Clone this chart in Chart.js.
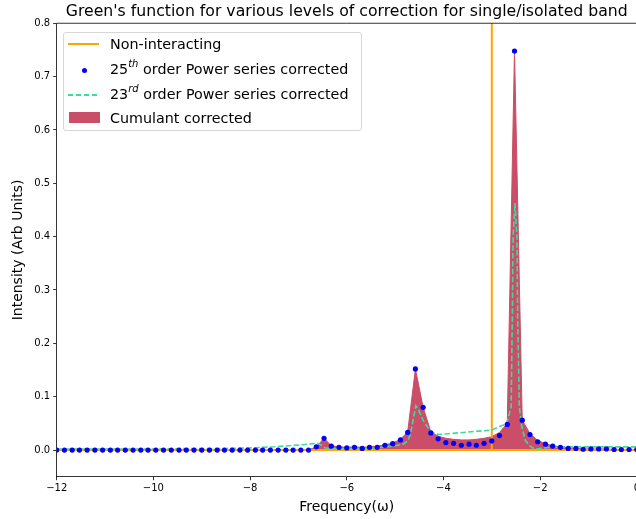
<!DOCTYPE html>
<html>
<head>
<meta charset="utf-8">
<script src="https://cdn.jsdelivr.net/npm/chart.js@4.4.1/dist/chart.umd.min.js"></script>
<style>
  html, body { margin: 0; padding: 0; background: #fff; overflow: hidden; }
  #wrap { position: relative; width: 642px; height: 519px; }
  #legend {
    position: absolute; left: 63px; top: 32px; width: 299px; height: 99px;
    box-sizing: border-box; border: 1px solid #d6d6d6; border-radius: 3px;
    background: rgba(255, 255, 255, 0.8);
    font-family: 'DejaVu Sans', sans-serif; font-size: 14.3px; color: #000;
  }
  #legend .row { position: absolute; left: 0; height: 20px; line-height: 20px; width: 100%; }
  #legend .txt { position: absolute; left: 46px; top: 0; white-space: nowrap; }
  #legend .txt sup { font-size: 10px; font-style: italic; vertical-align: 7px; line-height: 0; }
  #legend .h { position: absolute; }
</style>
</head>
<body>
<div id="wrap">
  <canvas id="greenChart"></canvas>
  <div id="legend">
    <div class="row" style="top:1px">
      <span class="h" style="left:4px;top:9px;width:31px;height:2px;background:#ffa500"></span>
      <span class="txt">Non-interacting</span>
    </div>
    <div class="row" style="top:26px">
      <span class="h" style="left:18px;top:9px;width:5px;height:5px;border-radius:50%;background:#0000ff"></span>
      <span class="txt">25<sup>th</sup> order Power series corrected</span>
    </div>
    <div class="row" style="top:51px">
      <span class="h" style="left:4px;top:10px;width:31px;height:1.6px;background:repeating-linear-gradient(to right,#3cdc9e 0 5.5px,transparent 5.5px 8px)"></span>
      <span class="txt">23<sup>rd</sup> order Power series corrected</span>
    </div>
    <div class="row" style="top:75px">
      <span class="h" style="left:5px;top:4px;width:31px;height:11px;background:rgb(202,78,103)"></span>
      <span class="txt">Cumulant corrected</span>
    </div>
  </div>
</div>
<script>
// frequency grid shared by the 25th order series and the cumulant result
const freq = [
  -12.00, -11.84, -11.68, -11.53, -11.37, -11.21, -11.05, -10.89, -10.74, -10.58,
  -10.42, -10.26, -10.11, -9.95, -9.79, -9.63, -9.47, -9.32, -9.16, -9.00,
  -8.84, -8.68, -8.53, -8.37, -8.21, -8.05, -7.89, -7.74, -7.58, -7.42,
  -7.26, -7.11, -6.95, -6.79, -6.63, -6.47, -6.32, -6.16, -6.00, -5.84,
  -5.68, -5.53, -5.37, -5.21, -5.05, -4.89, -4.74, -4.58, -4.42, -4.26,
  -4.11, -3.95, -3.79, -3.63, -3.47, -3.32, -3.16, -3.00, -2.84, -2.68,
  -2.53, -2.37, -2.21, -2.05, -1.89, -1.74, -1.58, -1.42, -1.26, -1.11,
  -0.95, -0.79, -0.63, -0.47, -0.32, -0.16, 0.00
];

const powerSeries25 = [
  0, 0, 0, 0, 0, 0, 0, 0, 0, 0,
  0, 0, 0, 0, 0, 0, 0, 0, 0, 0,
  0, 0, 0, 0, 0, 0, 0, 0, 0, 0,
  0, 0, 0, 0, 0.006, 0.022, 0.0075, 0.005, 0.004, 0.005,
  0.003, 0.005, 0.005, 0.009, 0.012, 0.019, 0.033, 0.152, 0.080, 0.032,
  0.021, 0.014, 0.0125, 0.009, 0.011, 0.009, 0.0125, 0.017, 0.027, 0.048,
  0.748, 0.056, 0.029, 0.0155, 0.011, 0.0075, 0.005, 0.003, 0.003, 0.0015,
  0.002, 0.002, 0.002, 0.001, 0.001, 0.001, 0.001
];

const cumulant = [
  0, 0, 0, 0, 0, 0, 0, 0, 0, 0,
  0, 0, 0, 0, 0, 0, 0, 0, 0, 0,
  0, 0, 0, 0, 0, 0, 0, 0, 0, 0,
  0, 0, 0, 0, 0.006, 0.022, 0.008, 0.006, 0.005, 0.006,
  0.005, 0.006, 0.007, 0.010, 0.013, 0.020, 0.034, 0.152, 0.080, 0.034,
  0.026, 0.022, 0.020, 0.019, 0.019, 0.020, 0.022, 0.025, 0.033, 0.050,
  0.748, 0.056, 0.031, 0.018, 0.012, 0.008, 0.006, 0.004, 0.003, 0.002,
  0.002, 0.002, 0.002, 0.001, 0.001, 0.001, 0.001
];

// 23rd order series, sampled on its own grid
const freq23 = [
  -12, -10, -9, -8.5, -8, -7.5, -7.2, -6.9, -6.7, -6.6,
  -6.52, -6.45, -6.3, -6.0, -5.7, -5.4, -5.17, -5.0, -4.83, -4.74,
  -4.68, -4.62, -4.57, -4.52, -4.42, -4.32, -4.24, -4.10, -3.0, -2.76,
  -2.69, -2.60, -2.575, -2.56, -2.52, -2.48, -2.465, -2.43, -2.38, -2.31,
  -2.22, -2.12, -2.0, -1.8, -1.5, -1.0, -0.5, 0
];
const powerSeries23 = [
  0.002, 0.002, 0.003, 0.003, 0.004, 0.006, 0.008, 0.010, 0.012, 0.0125,
  0.009, 0.004, 0.003, 0.003, 0.003, 0.004, 0.006, 0.008, 0.011, 0.017,
  0.030, 0.060, 0.083, 0.076, 0.056, 0.042, 0.033, 0.029, 0.0375, 0.047,
  0.050, 0.081, 0.25, 0.40, 0.463, 0.40, 0.25, 0.081, 0.044, 0.019,
  0.008, 0.002, 0.003, 0.005, 0.006, 0.006, 0.006, 0.006
];

// bare band: flat zero with a delta spike at the band energy
const freqNonInt = [-12, -3.0, -3.0, -3.0, 0];
const nonInteracting = [0, 0, 40, 0, 0];

const xTicks = [-12, -10, -8, -6, -4, -2, 0];
const yTicks = [0.0, 0.1, 0.2, 0.3, 0.4, 0.5, 0.6, 0.7, 0.8];

const toPoints = (xs, ys) => xs.map((x, i) => ({ x: x, y: ys[i] }));

const tickFont = { family: 'DejaVu Sans', size: 10 };
const labelFont = { family: 'DejaVu Sans', size: 14 };

// closes the axes box on the top and right
const frame = {
  id: 'frame',
  afterDraw(chart) {
    const { ctx, chartArea: { left, top, right, bottom } } = chart;
    ctx.save();
    ctx.strokeStyle = '#000';
    ctx.lineWidth = 0.8;
    ctx.beginPath();
    ctx.moveTo(left, top);
    ctx.lineTo(right, top);
    ctx.lineTo(right, bottom);
    ctx.stroke();
    ctx.restore();
  }
};

const axisCommon = {
  type: 'linear',
  grid: { display: true, drawOnChartArea: false, drawTicks: true, tickLength: 3.5, color: '#000', tickWidth: 0.8 },
  border: { display: true, color: '#000', width: 0.8 }
};

const ctx = document.getElementById('greenChart').getContext('2d');
const chart = new Chart(ctx, {
  type: 'line',
  data: {
    datasets: [
      {
        label: '25th order Power series corrected',
        data: toPoints(freq, powerSeries25),
        showLine: false,
        pointRadius: 2.6,
        pointBackgroundColor: '#0000ff',
        pointBorderWidth: 0,
        order: 0
      },
      {
        label: '23rd order Power series corrected',
        data: toPoints(freq23, powerSeries23),
        borderColor: '#3cdc9e',
        borderWidth: 1.6,
        borderDash: [5.5, 2.4],
        pointRadius: 0,
        tension: 0,
        order: 1
      },
      {
        label: 'Non-interacting',
        data: toPoints(freqNonInt, nonInteracting),
        borderColor: '#ffa500',
        borderWidth: 2,
        pointRadius: 0,
        tension: 0,
        order: 2
      },
      {
        label: 'Cumulant corrected',
        data: toPoints(freq, cumulant),
        borderColor: 'rgb(202,78,103)',
        backgroundColor: 'rgb(202,78,103)',
        borderWidth: 1,
        pointRadius: 0,
        tension: 0,
        fill: 'origin',
        order: 3
      }
    ]
  },
  options: {
    responsive: true,
    maintainAspectRatio: false,
    animation: false,
    events: [],
    layout: { padding: 0 },
    plugins: {
      legend: { display: false },
      tooltip: { enabled: false },
      title: {
        display: true,
        text: "Green's function for various levels of correction for single/isolated band",
        color: '#000',
        font: { family: 'DejaVu Sans', size: 15.7, weight: 'normal', lineHeight: 1.15 },
        padding: { top: 3, bottom: 2.2 },
        fullSize: false
      }
    },
    scales: {
      x: {
        ...axisCommon,
        min: -12,
        max: 0,
        afterBuildTicks: (s) => { s.ticks = xTicks.map(v => ({ value: v })); },
        afterFit: (s) => { s.height = 42.3; },
        ticks: {
          color: '#000', font: tickFont, padding: 2, maxRotation: 0, autoSkip: false,
          callback: (v) => String(v).replace('-', '\u2212')
        },
        title: { display: true, text: 'Frequency(\u03c9)', color: '#000', font: labelFont, padding: { top: 0, bottom: 3.6 } }
      },
      y: {
        ...axisCommon,
        min: -0.05,
        max: 0.8,
        afterBuildTicks: (s) => { s.ticks = yTicks.map(v => ({ value: v })); },
        afterFit: (s) => { s.width = 56.7; },
        ticks: {
          color: '#000', font: tickFont, padding: 3,
          callback: (v) => v.toFixed(1)
        },
        title: { display: true, text: 'Intensity (Arb Units)', color: '#000', font: labelFont, padding: { top: 10, bottom: 0 } }
      }
    }
  },
  plugins: [frame]
});
</script>
</body>
</html>
